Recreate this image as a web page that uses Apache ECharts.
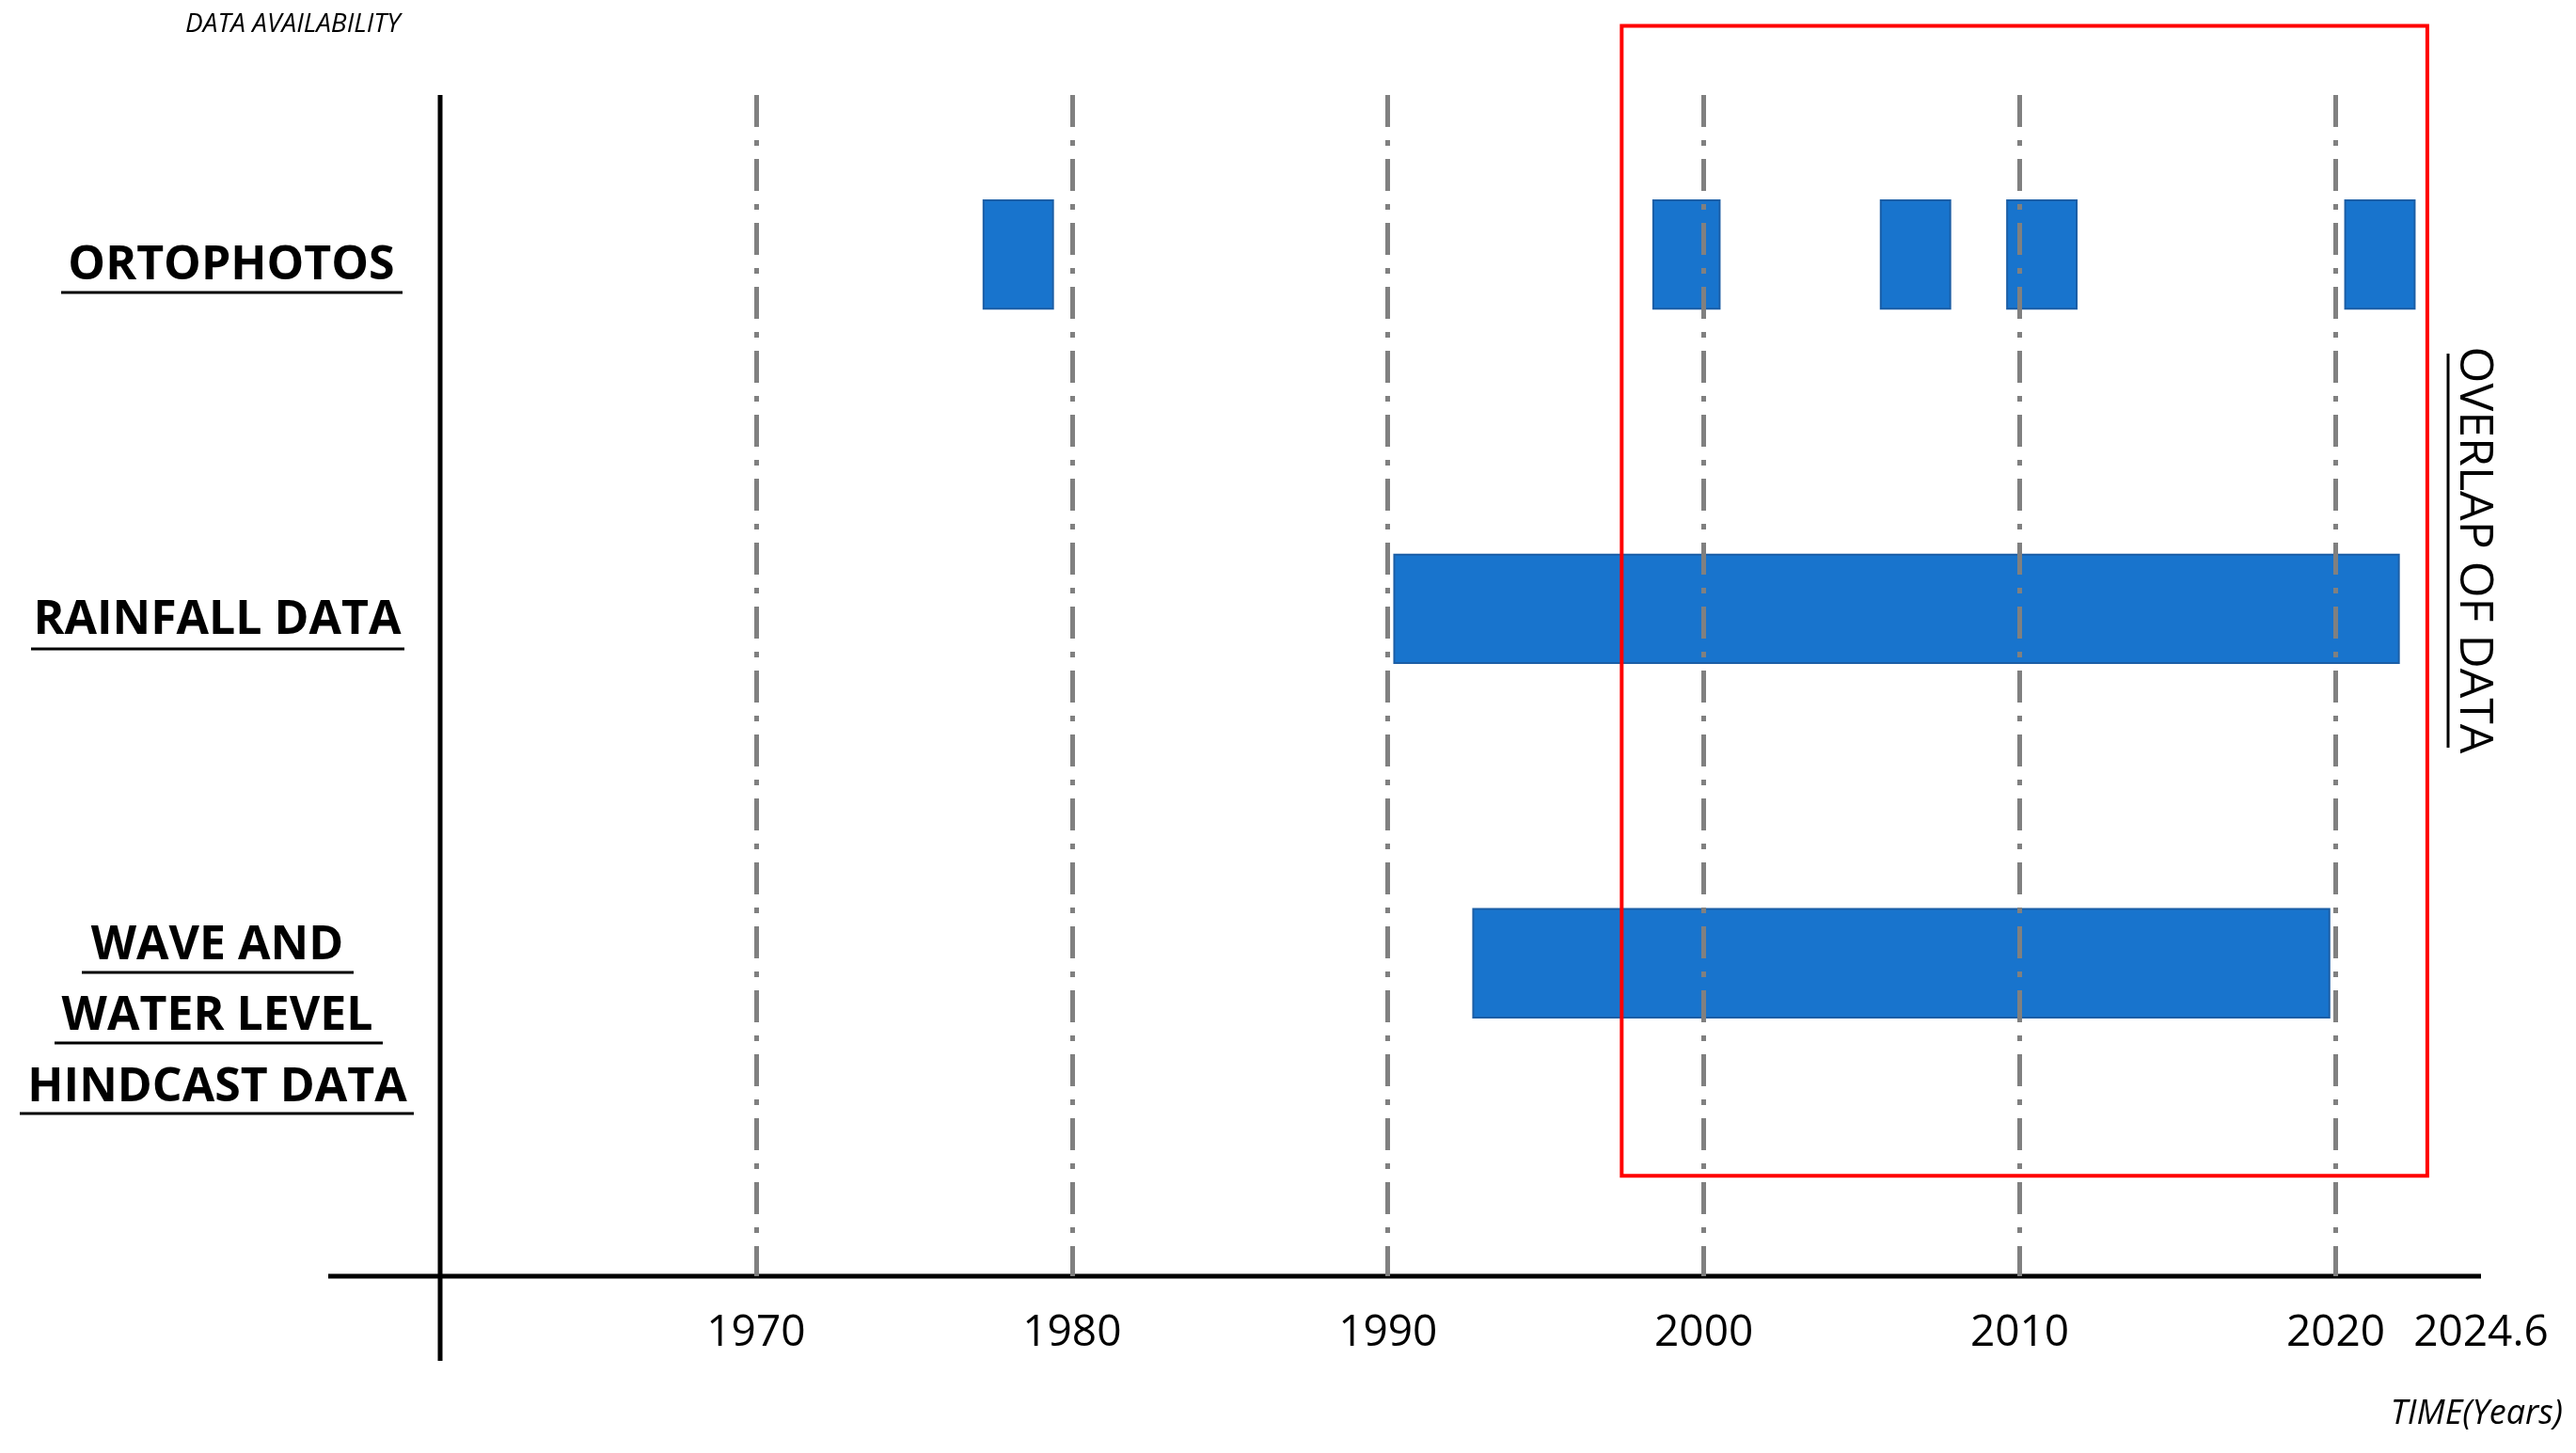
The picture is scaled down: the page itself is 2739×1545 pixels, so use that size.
<!DOCTYPE html>
<html><head><meta charset="utf-8">
<script src="https://cdn.jsdelivr.net/npm/echarts@6/dist/echarts.min.js"></script>
<style>html,body{margin:0;background:#fff}#c{width:2739px;height:1545px}</style>
</head><body><div id="c"></div>
<script>
const rowNames = ['ORTOPHOTOS', 'RAINFALL DATA', 'WAVE AND WATER LEVEL HINDCAST DATA'];
// [row index, start year, end year]
const periods = [
  [0, 1977.2, 1979.4], [0, 1998.4, 2000.5], [0, 2005.6, 2007.8], [0, 2009.6, 2011.8], [0, 2020.3, 2022.5],
  [1, 1990.2, 2022.0],
  [2, 1992.7, 2019.8]
];
const gridYears = [1970, 1980, 1990, 2000, 2010, 2020];
const overlap = [1997.4, 2022.9];
const chart = echarts.init(document.getElementById('c'));
const font = 'Open Sans';
const halfH = 0.153;
chart.setOption({
  animation: false,
  grid: {left: 468, right: 101, top: 101, bottom: 188},
  xAxis: {type: 'value', min: 1960, max: 2024.6, interval: 10,
    axisLine: {show: false}, axisTick: {show: false}, splitLine: {show: false},
    axisLabel: {margin: 38, fontSize: 46, color: '#000', fontFamily: font,
      formatter: v => (v === 1960 ? '' : String(v))}},
  yAxis: {type: 'value', inverse: true, min: -0.45, max: 2.883, show: false},
  series: [
    {type: 'custom', clip: false, data: periods,
      renderItem: (p, api) => {
        const a = api.coord([api.value(1), api.value(0) - halfH]);
        const b = api.coord([api.value(2), api.value(0) + halfH]);
        return {type: 'rect', shape: {x: a[0], y: a[1], width: b[0] - a[0], height: b[1] - a[1]},
          style: {fill: '#1874cd', stroke: '#1b5ea6', lineWidth: 2}};
      },
      markLine: {silent: true, symbol: 'none', label: {show: false},
        lineStyle: {color: '#808080', width: 5, type: [34, 14, 6, 14]},
        data: gridYears.map(y => ({xAxis: y}))}},
    {type: 'custom', clip: false, data: [[overlap[0], overlap[1]]], z: 5,
      renderItem: (p, api) => {
        const a = api.coord([api.value(0), -0.645]);
        const b = api.coord([api.value(1), 2.60]);
        return {type: 'rect', shape: {x: a[0], y: a[1], width: b[0] - a[0], height: b[1] - a[1]},
          style: {fill: 'none', stroke: '#ff0000', lineWidth: 4}};
      }}
  ],
  graphic: [
    {type: 'line', shape: {x1: 349, y1: 1357, x2: 2638, y2: 1357}, style: {stroke: '#000', lineWidth: 5}},
    {type: 'line', shape: {x1: 468, y1: 101, x2: 468, y2: 1447}, style: {stroke: '#000', lineWidth: 5}},
    {type: 'text', left: 197, top: 12, style: {text: 'DATA AVAILABILITY', font: 'italic 28px "Open Sans"', fill: '#000'}},
    {type: 'text', right: 14, top: 1486, style: {text: 'TIME(Years)', font: 'italic 36px "Open Sans"', fill: '#000'}},
    {type: 'text', x: 246, y: 283, style: {text: rowNames[0], font: 'bold 50px "Open Sans"', fill: '#000', align: 'center', verticalAlign: 'middle'}},
    {type: 'line', shape: {x1: 65, y1: 311, x2: 428, y2: 311}, style: {stroke: '#000', lineWidth: 3}},
    {type: 'text', x: 231, y: 660, style: {text: rowNames[1], font: 'bold 50px "Open Sans"', fill: '#000', align: 'center', verticalAlign: 'middle'}},
    {type: 'line', shape: {x1: 33, y1: 690, x2: 430, y2: 690}, style: {stroke: '#000', lineWidth: 3}},
    {type: 'text', x: 231, y: 1006, style: {text: 'WAVE AND', font: 'bold 50px "Open Sans"', fill: '#000', align: 'center', verticalAlign: 'middle'}},
    {type: 'line', shape: {x1: 87, y1: 1034, x2: 376, y2: 1034}, style: {stroke: '#000', lineWidth: 3}},
    {type: 'text', x: 231, y: 1081, style: {text: 'WATER LEVEL', font: 'bold 50px "Open Sans"', fill: '#000', align: 'center', verticalAlign: 'middle'}},
    {type: 'line', shape: {x1: 58, y1: 1109, x2: 407, y2: 1109}, style: {stroke: '#000', lineWidth: 3}},
    {type: 'text', x: 231, y: 1157, style: {text: 'HINDCAST DATA', font: 'bold 50px "Open Sans"', fill: '#000', align: 'center', verticalAlign: 'middle'}},
    {type: 'line', shape: {x1: 21, y1: 1184, x2: 440, y2: 1184}, style: {stroke: '#000', lineWidth: 3}},
    {type: 'text', x: 2630, y: 585, rotation: -Math.PI / 2,
      style: {text: 'OVERLAP OF DATA', font: '50px "Open Sans"', fill: '#000', align: 'center', verticalAlign: 'middle'}},
    {type: 'line', shape: {x1: 2603, y1: 376, x2: 2603, y2: 795}, style: {stroke: '#000', lineWidth: 3}}
  ]
});
</script></body></html>
